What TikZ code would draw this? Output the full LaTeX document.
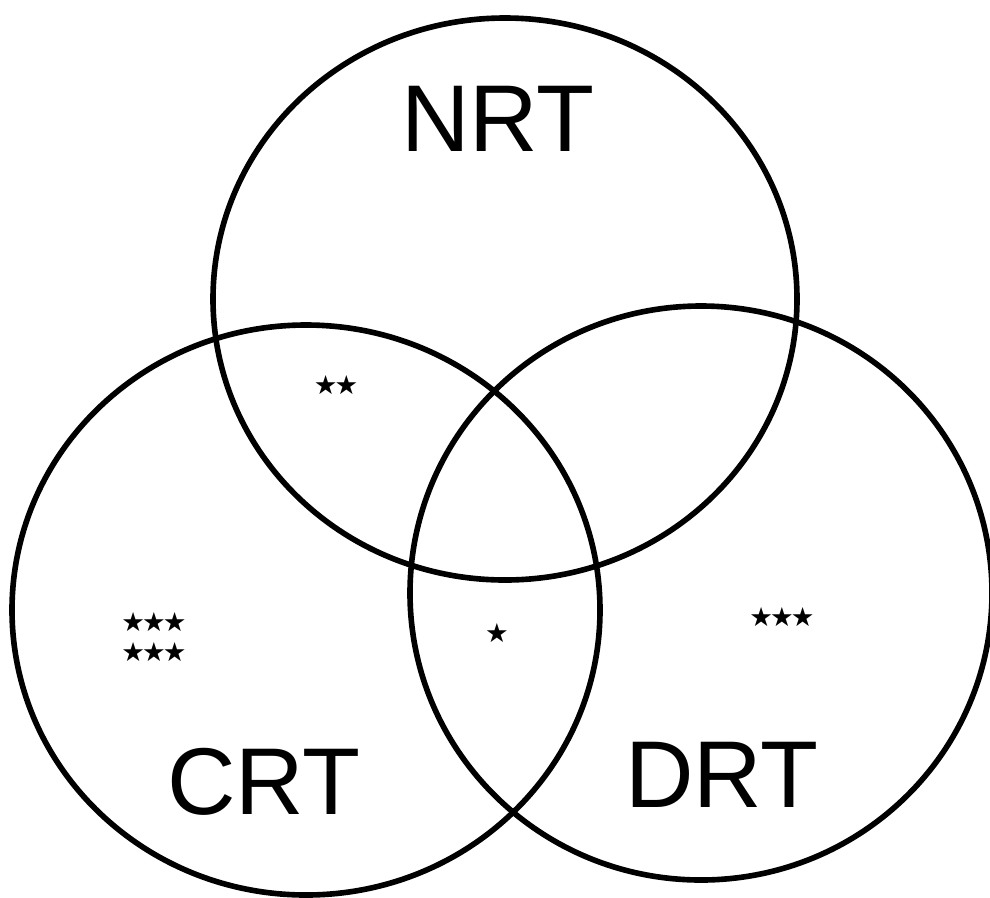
\documentclass[tikz,border=0pt]{standalone}
\usepackage{fontspec}
\setmainfont{Liberation Sans}
\newfontfamily\starfont{DejaVu Sans}
\usetikzlibrary{shapes,shapes.geometric,positioning,calc}
\newcommand{\sk}{\kern-0.8pt}

\begin{document}
\begin{tikzpicture}[
    set/.style={ellipse, draw=black, line width=1.6pt, inner sep=0pt},
    setname/.style={font=\fontsize{27}{27}\selectfont, inner sep=0pt},
    stars/.style={font=\starfont\fontsize{7.5}{8}\selectfont, inner sep=0pt, align=center}
]
\useasboundingbox (0,0) rectangle (9.9,-8.97);

% The three sets
\node[set, minimum width=5.84cm, minimum height=5.62cm] (nrt) at (5.05,-2.99) {};
\node[set, minimum width=5.88cm, minimum height=5.70cm] (crt) at (3.06,-6.10) {};
\node[set, minimum width=5.82cm, minimum height=5.74cm] (drt) at (7.01,-5.93) {};

% Set names
\node[setname] (nrtname) at (4.98,-1.19) {NRT};
\node[setname] (crtname) at (2.64,-7.82) {CRT};
\node[setname] (drtname) at (7.22,-7.75) {DRT};

% Marks in the regions
\node[stars] (nc) at (3.36,-3.85) {★\sk★};
\node[stars] (conly) at (1.54,-6.37) {★\sk★\sk★\\[0.5pt]★\sk★\sk★};
\node[stars] (cd) at (4.97,-6.33) {★};
\node[stars] (donly) at (7.82,-6.17) {★\sk★\sk★};

\end{tikzpicture}
\end{document}
